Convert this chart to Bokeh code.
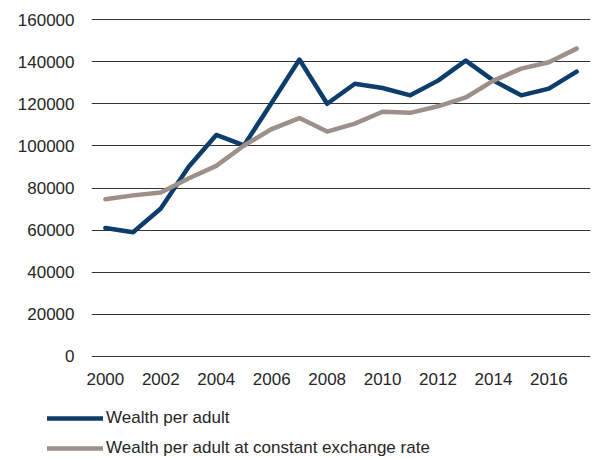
from bokeh.plotting import figure
from bokeh.models import FixedTicker, BasicTickFormatter, Range1d, Legend, LegendItem
from bokeh.embed import file_html
from bokeh.resources import INLINE

years = list(range(2000, 2018))
wealth = [61000, 59000, 70300, 90000, 105200, 100200, 120500, 141000, 120000, 129500,
          127500, 124000, 131000, 140500, 131000, 124000, 127200, 135300]
wealth_const = [74700, 76500, 77900, 84500, 90500, 100200, 108000, 113200, 106800, 110600,
                116200, 115700, 118800, 123000, 131000, 136700, 139700, 146200]
x_ticks = list(range(2000, 2017, 2))
y_ticks = list(range(0, 160001, 20000))
series_names = ["Wealth per adult", "Wealth per adult at constant exchange rate"]
series_colors = ["#0d3d6b", "#9c9088"]

FONT = "Liberation Sans"
TXT = "#262626"

p = figure(width=598, height=400, frame_width=499, frame_height=339,
           output_backend="svg", toolbar_location=None,
           x_range=Range1d(1999.5, 2017.5), y_range=Range1d(-500, 160500),
           min_border_left=91, min_border_right=8, min_border_top=18, min_border_bottom=43)
p.outline_line_color = None

p.line(years, wealth, line_color=series_colors[0], line_width=4.5, line_join="round", line_cap="round")
p.line(years, wealth_const, line_color=series_colors[1], line_width=4.5, line_join="round", line_cap="round")

p.xaxis.ticker = FixedTicker(ticks=x_ticks)
p.yaxis.ticker = FixedTicker(ticks=y_ticks)
p.yaxis.formatter = BasicTickFormatter(use_scientific=False)
for ax in (p.xaxis, p.yaxis):
    ax.axis_line_color = None
    ax.major_tick_line_color = None
    ax.minor_tick_line_color = None
    ax.major_label_text_font = FONT
    ax.major_label_text_font_size = "17px"
    ax.major_label_text_color = TXT
p.yaxis.major_label_standoff = 11
p.xaxis.major_label_standoff = 9

p.xgrid.grid_line_color = None
p.ygrid.grid_line_color = "#333333"
p.ygrid.grid_line_width = 1

# separate legend strip underneath (own root, so its frame starts at the left edge)
p2 = figure(width=598, height=60, output_backend="svg", toolbar_location=None,
            x_range=Range1d(0, 1), y_range=Range1d(0, 1),
            x_axis_location=None, y_axis_location=None,
            min_border_left=0, min_border_right=0, min_border_top=0, min_border_bottom=0)
p2.outline_line_color = None
p2.grid.visible = False
# same series drawn outside the strip's visible range; only their legend glyphs show
r1 = p2.line(years, wealth, line_color=series_colors[0], line_width=4.5, line_cap="round")
r2 = p2.line(years, wealth_const, line_color=series_colors[1], line_width=4.5, line_cap="round")

legend = Legend(items=[LegendItem(label=series_names[0], renderers=[r1]),
                       LegendItem(label=series_names[1], renderers=[r2])],
                location=(47, 2))
legend.label_text_font = FONT
legend.label_text_font_size = "17px"
legend.label_text_color = TXT
legend.glyph_width = 56
legend.glyph_height = 20
legend.label_height = 20
legend.label_standoff = 3
legend.spacing = 10
legend.padding = 0
legend.margin = 0
legend.border_line_color = None
legend.background_fill_alpha = 0
p2.add_layout(legend, "center")

open("out.html", "w").write(file_html([p, p2], INLINE))
